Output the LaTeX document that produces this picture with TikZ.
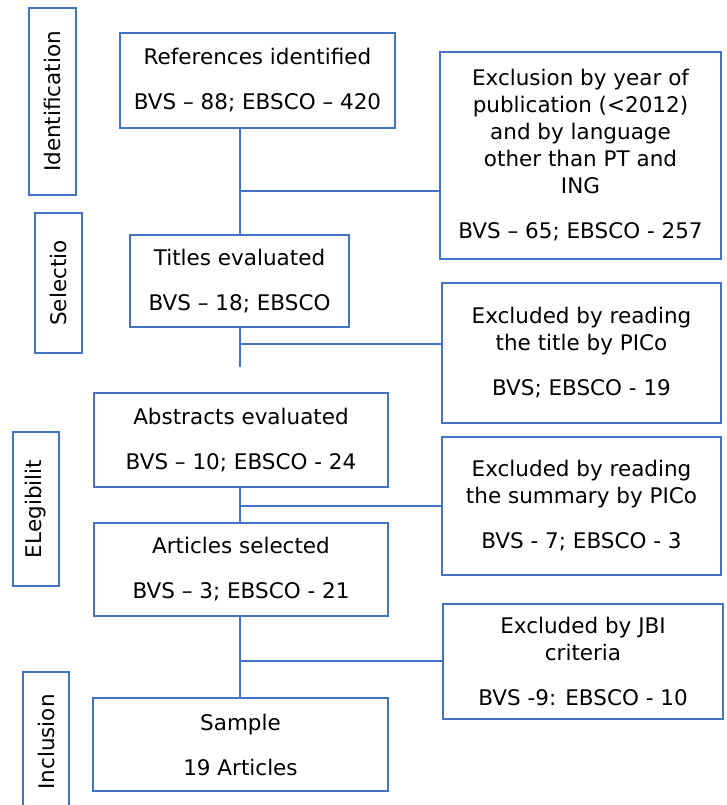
\documentclass[tikz,border=0pt]{standalone}
\usepackage{fontspec}
\setmainfont{DejaVu Sans}
\usetikzlibrary{calc}
\definecolor{flowblue}{RGB}{68,114,196}
\tikzset{
  box/.style={draw=flowblue, line width=2.8pt, align=center, inner sep=0pt,
    font=\fontsize{21.5}{27}\selectfont},
  phase/.style={box, rotate=90},
  link/.style={draw=flowblue, line width=2.8pt},
}

\begin{document}
\begin{tikzpicture}[x=1pt,y=-1pt]
    \useasboundingbox (0,0) rectangle (726,805);
    % phases
    \node[phase, minimum width=187pt, minimum height=47pt] (ident) at (52.5,101.5) {Identification};
    \node[phase, minimum width=140pt, minimum height=47pt] (selec) at (58.5,283) {Selectio};
    \node[phase, minimum width=154pt, minimum height=46pt] (elegib) at (36,509) {ELegibilit};
    \node[phase, minimum width=140pt, minimum height=46pt] (incl) at (46,742) {Inclusion};
    % main column
    \node[box, minimum width=275pt, minimum height=95pt] (refs) at (257.5,80.5)
      {References identified\\[18pt] BVS -- 88; EBSCO -- 420};
    \node[box, minimum width=219pt, minimum height=92pt] (titles) at (239.5,281)
      {Titles evaluated\\[18pt] BVS -- 18; EBSCO};
    \node[box, minimum width=294pt, minimum height=94pt] (abstr) at (241,440)
      {Abstracts evaluated\\[18pt] BVS -- 10; EBSCO - 24};
    \node[box, minimum width=294pt, minimum height=93pt] (artic) at (241,569.5)
      {Articles selected\\[18pt] BVS -- 3; EBSCO - 21};
    \node[box, minimum width=295pt, minimum height=93pt] (sample) at (240.5,744.5)
      {Sample\\[18pt] 19 Articles};
    % exclusions
    \node[box, minimum width=281pt, minimum height=207pt] (exclyear) at (580.5,155.5)
      {Exclusion by year of\\ publication (<2012)\\ and by language\\ other than PT and\\ ING\\[18pt] BVS -- 65; EBSCO - 257};
    \node[box, minimum width=279pt, minimum height=140pt] (excltitle) at (581.5,353)
      {Excluded by reading\\ the title by PICo\\[18pt] BVS; EBSCO - 19};
    \node[box, minimum width=279pt, minimum height=138pt] (exclsum) at (581.5,506)
      {Excluded by reading\\ the summary by PICo\\[18pt] BVS - 7; EBSCO - 3};
    \node[box, minimum width=280pt, minimum height=115pt] (exclJBI) at (583,661.5)
      {Excluded by JBI\\ criteria\\[18pt] BVS -9: EBSCO - 10};
    % connectors
    \coordinate (j1) at (240,191);
    \coordinate (j2) at (240,344);
    \coordinate (j3) at (240,506);
    \coordinate (j4) at (240,661);
    \coordinate (tail) at (240,367);
    \draw[link] (refs.south -| j1) -- (titles.north -| j1);
    \draw[link] (j1) -- (j1 -| exclyear.west);
    \draw[link] (titles.south -| j2) -- (tail);
    \draw[link] (j2) -- (j2 -| excltitle.west);
    \draw[link] (abstr.south -| j3) -- (artic.north -| j3);
    \draw[link] (j3) -- (j3 -| exclsum.west);
    \draw[link] (artic.south -| j4) -- (sample.north -| j4);
    \draw[link] (j4) -- (j4 -| exclJBI.west);
  \end{tikzpicture}
\end{document}
